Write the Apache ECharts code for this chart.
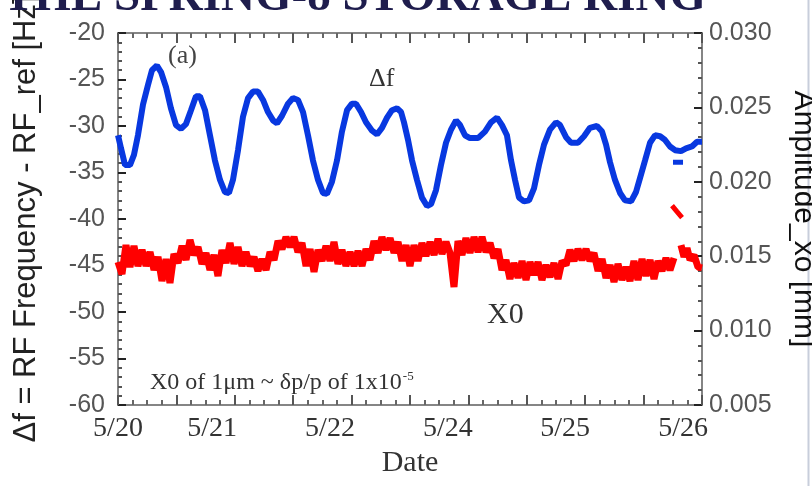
<!DOCTYPE html>
<html>
<head>
<meta charset="utf-8">
<script src="https://cdn.jsdelivr.net/npm/echarts@6/dist/echarts.min.js"></script>
<style>
  html, body { margin: 0; padding: 0; background: #fff; }
  #chart { width: 812px; height: 486px; }
</style>
</head>
<body>
<div id="chart"></div>
<script>
// x axis is days after 5/20 00:00; the printed date labels sit at irregular places
const dateLabels = ['5/20', '5/21', '5/22', '5/24', '5/25', '5/26'];
const dateLabelDays = [0, 0.966, 2.178, 3.390, 4.593, 5.805];

// Δf [Hz], left axis
const deltaF = [
  [0, -31.0], [0.031, -32.4], [0.072, -34.2], [0.123, -34.2], [0.164, -33.1], [0.205, -31.0],
  [0.257, -27.7], [0.308, -25.6], [0.349, -24.0], [0.400, -23.5], [0.442, -24.2], [0.493, -25.8],
  [0.544, -28.1], [0.596, -29.9], [0.647, -30.3], [0.698, -29.8], [0.750, -28.3], [0.801, -26.8],
  [0.842, -26.8], [0.894, -28.3], [0.945, -31.0], [0.996, -33.7], [1.048, -35.8], [1.099, -37.1],
  [1.140, -37.2], [1.181, -35.8], [1.233, -32.6], [1.284, -29.0], [1.336, -27.0], [1.387, -26.3],
  [1.438, -26.3], [1.490, -27.2], [1.541, -28.5], [1.593, -29.4], [1.634, -29.7], [1.685, -28.9],
  [1.747, -27.6], [1.798, -27.0], [1.849, -27.2], [1.901, -28.5], [1.952, -31.0], [2.003, -33.7],
  [2.055, -35.8], [2.106, -37.2], [2.147, -37.3], [2.198, -36.0], [2.250, -33.7], [2.301, -30.6],
  [2.353, -28.3], [2.404, -27.6], [2.445, -27.6], [2.497, -28.5], [2.548, -29.6], [2.610, -30.5],
  [2.661, -30.9], [2.712, -30.2], [2.764, -29.1], [2.815, -28.3], [2.866, -28.1], [2.908, -28.5],
  [2.938, -29.6], [2.980, -31.5], [3.021, -33.7], [3.072, -35.8], [3.123, -37.7], [3.175, -38.6],
  [3.216, -38.4], [3.267, -36.9], [3.318, -34.2], [3.370, -31.8], [3.421, -30.4], [3.473, -29.4],
  [3.514, -29.9], [3.565, -31.0], [3.616, -31.3], [3.699, -31.3], [3.770, -30.6], [3.832, -29.6],
  [3.894, -29.1], [3.945, -29.9], [3.996, -31.0], [4.038, -33.7], [4.079, -35.8], [4.120, -37.7],
  [4.171, -38.1], [4.223, -38.0], [4.274, -36.7], [4.325, -34.2], [4.377, -32.0], [4.438, -30.4],
  [4.500, -29.6], [4.541, -29.9], [4.603, -31.2], [4.654, -31.8], [4.726, -31.8], [4.788, -31.1],
  [4.849, -30.2], [4.921, -30.0], [4.973, -30.6], [5.014, -32.0], [5.055, -33.9], [5.106, -35.8],
  [5.158, -37.2], [5.209, -38.0], [5.271, -38.1], [5.322, -37.1], [5.363, -35.6], [5.415, -33.7],
  [5.466, -31.8], [5.517, -31.0], [5.569, -31.1], [5.620, -31.5], [5.671, -32.2], [5.723, -32.6],
  [5.784, -32.7], [5.836, -32.4], [5.897, -32.2], [5.949, -31.7], [6.000, -31.7]
];
const deltaFBranch = [[5.702, -33.9], [5.805, -33.9]];

// X0 amplitude [mm], right axis (noisy trace)
const xo = [
  [0.000, 0.01461], [0.041, 0.01380], [0.082, 0.01575], [0.123, 0.01427], [0.164, 0.01569], [0.205, 0.01434],
  [0.247, 0.01542], [0.288, 0.01434], [0.329, 0.01528], [0.370, 0.01407], [0.411, 0.01495], [0.452, 0.01333],
  [0.493, 0.01481], [0.534, 0.01320], [0.575, 0.01515], [0.616, 0.01454], [0.658, 0.01569], [0.699, 0.01475],
  [0.740, 0.01609], [0.781, 0.01508], [0.822, 0.01562], [0.863, 0.01448], [0.904, 0.01522], [0.945, 0.01407],
  [0.986, 0.01508], [1.027, 0.01367], [1.068, 0.01542], [1.110, 0.01454], [1.151, 0.01589], [1.192, 0.01448],
  [1.233, 0.01562], [1.274, 0.01434], [1.315, 0.01528], [1.356, 0.01434], [1.397, 0.01495], [1.438, 0.01401],
  [1.479, 0.01481], [1.521, 0.01407], [1.562, 0.01528], [1.603, 0.01475], [1.644, 0.01602], [1.685, 0.01548],
  [1.726, 0.01629], [1.767, 0.01562], [1.808, 0.01629], [1.849, 0.01528], [1.890, 0.01589], [1.932, 0.01434],
  [1.973, 0.01548], [2.014, 0.01394], [2.055, 0.01542], [2.096, 0.01468], [2.137, 0.01569], [2.178, 0.01468],
  [2.219, 0.01596], [2.260, 0.01448], [2.301, 0.01542], [2.342, 0.01434], [2.384, 0.01528], [2.425, 0.01434],
  [2.466, 0.01535], [2.507, 0.01434], [2.548, 0.01548], [2.589, 0.01475], [2.630, 0.01602], [2.671, 0.01522],
  [2.712, 0.01629], [2.753, 0.01542], [2.795, 0.01622], [2.836, 0.01522], [2.877, 0.01596], [2.918, 0.01468],
  [2.959, 0.01575], [3.000, 0.01434], [3.041, 0.01575], [3.082, 0.01468], [3.123, 0.01589], [3.164, 0.01501],
  [3.206, 0.01596], [3.247, 0.01508], [3.288, 0.01616], [3.329, 0.01515], [3.370, 0.01596], [3.411, 0.01522],
  [3.452, 0.01293], [3.493, 0.01602], [3.534, 0.01508], [3.575, 0.01622], [3.616, 0.01522], [3.658, 0.01629],
  [3.699, 0.01528], [3.740, 0.01629], [3.781, 0.01528], [3.822, 0.01589], [3.863, 0.01488], [3.904, 0.01548],
  [3.945, 0.01407], [3.986, 0.01475], [4.027, 0.01347], [4.068, 0.01454], [4.110, 0.01354], [4.151, 0.01468],
  [4.192, 0.01340], [4.233, 0.01461], [4.274, 0.01374], [4.315, 0.01461], [4.356, 0.01340], [4.397, 0.01441],
  [4.438, 0.01360], [4.479, 0.01454], [4.521, 0.01347], [4.562, 0.01468], [4.603, 0.01441], [4.644, 0.01542],
  [4.685, 0.01468], [4.726, 0.01548], [4.767, 0.01475], [4.808, 0.01548], [4.849, 0.01468], [4.890, 0.01522],
  [4.932, 0.01401], [4.973, 0.01481], [5.014, 0.01354], [5.055, 0.01441], [5.096, 0.01327], [5.137, 0.01448],
  [5.178, 0.01340], [5.219, 0.01427], [5.260, 0.01333], [5.301, 0.01468], [5.342, 0.01340], [5.384, 0.01481],
  [5.425, 0.01367], [5.466, 0.01475], [5.507, 0.01347], [5.548, 0.01468], [5.589, 0.01401], [5.630, 0.01488],
  [5.671, 0.01407], [5.712, 0.01488]
];
const xoTail = [[5.784, 0.01575], [5.815, 0.01495], [5.846, 0.01555], [5.877, 0.01475], [5.918, 0.01508], [5.959, 0.01427], [6.000, 0.01421]];
const xoBranch = [[5.692, 0.0184], [5.743, 0.0180], [5.795, 0.0176]];

const sans = "'Liberation Sans', 'DejaVu Sans', sans-serif";
const serif = "'Liberation Serif', 'DejaVu Serif', serif";
const frameLine = { show: true, onZero: false, lineStyle: { color: '#858585', width: 2 } };

const chart = echarts.init(document.getElementById('chart'));
chart.setOption({
  animation: false,
  backgroundColor: '#fff',
  title: {
    text: 'THE SPRING-8 STORAGE RING',
    left: -2,
    top: -31,
    textStyle: { fontFamily: serif, fontWeight: 'bold', fontSize: 47, color: '#1f1d4d' }
  },
  grid: { left: 118, right: 110, top: 33, bottom: 81, containLabel: false, outerBoundsMode: 'none' },
  xAxis: [
    {
      type: 'value', min: 0, max: 6, interval: 0.6, position: 'bottom',
      axisLine: frameLine,
      axisTick: { inside: true, length: 10, lineStyle: { color: '#555', width: 2 } },
      minorTick: { show: true, splitNumber: 4, length: 5, lineStyle: { color: '#666', width: 2 } },
      splitLine: { show: false },
      axisLabel: {
        customValues: dateLabelDays,
        formatter: v => dateLabels[dateLabelDays.indexOf(v)],
        margin: 10, fontFamily: serif, fontSize: 28, color: '#333'
      },
      name: 'Date', nameLocation: 'middle', nameGap: 36,
      nameTextStyle: { fontFamily: serif, fontSize: 30, color: '#333' }
    },
    {
      type: 'value', min: 0, max: 6, interval: 0.6, position: 'top',
      axisLine: frameLine,
      axisTick: { inside: true, length: 10, lineStyle: { color: '#555', width: 2 } },
      minorTick: { show: true, splitNumber: 4, length: 5, lineStyle: { color: '#666', width: 2 } },
      splitLine: { show: false },
      axisLabel: { show: false }
    }
  ],
  yAxis: [
    {
      type: 'value', min: -60, max: -20, interval: 5, position: 'left',
      axisLine: frameLine,
      axisTick: { inside: true, length: 8, lineStyle: { color: '#222', width: 2 } },
      minorTick: { show: true, splitNumber: 5, length: 4, lineStyle: { color: '#555', width: 2 } },
      splitLine: { show: false },
      axisLabel: { margin: 13, fontFamily: sans, fontSize: 25, color: '#555' },
      name: 'Δf = RF Frequency - RF_ref [Hz]', nameLocation: 'middle', nameGap: 76,
      nameTextStyle: { fontFamily: sans, fontSize: 31, color: '#222' }
    },
    {
      type: 'value', min: 0.005, max: 0.030, interval: 0.005, position: 'right',
      axisLine: frameLine,
      axisTick: { inside: true, length: 8, lineStyle: { color: '#222', width: 2 } },
      minorTick: { show: true, splitNumber: 5, length: 4, lineStyle: { color: '#555', width: 2 } },
      splitLine: { show: false },
      axisLabel: { margin: 7, fontFamily: sans, fontSize: 25, color: '#555', formatter: v => v.toFixed(3) },
      name: 'Amplitude_xo [mm]', nameLocation: 'middle', nameGap: 86, nameRotate: -90,
      nameTextStyle: { fontFamily: sans, fontSize: 30, color: '#111' }
    }
  ],
  graphic: [
    { type: 'line', shape: { x1: 808.5, y1: 0, x2: 808.5, y2: 486 }, style: { stroke: '#c8cedb', lineWidth: 2 } },
    { type: 'text', left: 168, top: 43, style: { text: '(a)', fontFamily: serif, fontSize: 26, fill: '#444' } },
    { type: 'text', left: 369, top: 66, style: { text: 'Δf', fontFamily: serif, fontSize: 26, fill: '#333' } },
    { type: 'text', left: 487, top: 300, style: { text: 'X0', fontFamily: serif, fontSize: 30, fill: '#333' } },
    {
      type: 'text', left: 150, top: 370,
      style: {
        text: '{m|X0 of 1μm ~ δp/p of 1x10}{s|-5}',
        rich: {
          m: { fontFamily: serif, fontSize: 24, fill: '#333', color: '#333' },
          s: { fontFamily: serif, fontSize: 13, fill: '#333', color: '#333', verticalAlign: 'top', padding: [0, 0, 12, 1] }
        }
      }
    }
  ],
  series: [
    { type: 'line', name: 'X0', xAxisIndex: 0, yAxisIndex: 1, data: xo, showSymbol: false, lineStyle: { color: '#ff0000', width: 7 } },
    { type: 'line', name: 'X0 tail', xAxisIndex: 0, yAxisIndex: 1, data: xoTail, showSymbol: false, lineStyle: { color: '#ff0000', width: 7 } },
    { type: 'line', name: 'X0 branch', xAxisIndex: 0, yAxisIndex: 1, data: xoBranch, showSymbol: false, lineStyle: { color: '#ff0000', width: 5 } },
    { type: 'line', name: 'Δf', xAxisIndex: 0, yAxisIndex: 0, data: deltaF, showSymbol: false, lineStyle: { color: '#0838e0', width: 6 } },
    { type: 'line', name: 'Δf branch', xAxisIndex: 0, yAxisIndex: 0, data: deltaFBranch, showSymbol: false, lineStyle: { color: '#0838e0', width: 5 } }
  ]
});
</script>
</body>
</html>
